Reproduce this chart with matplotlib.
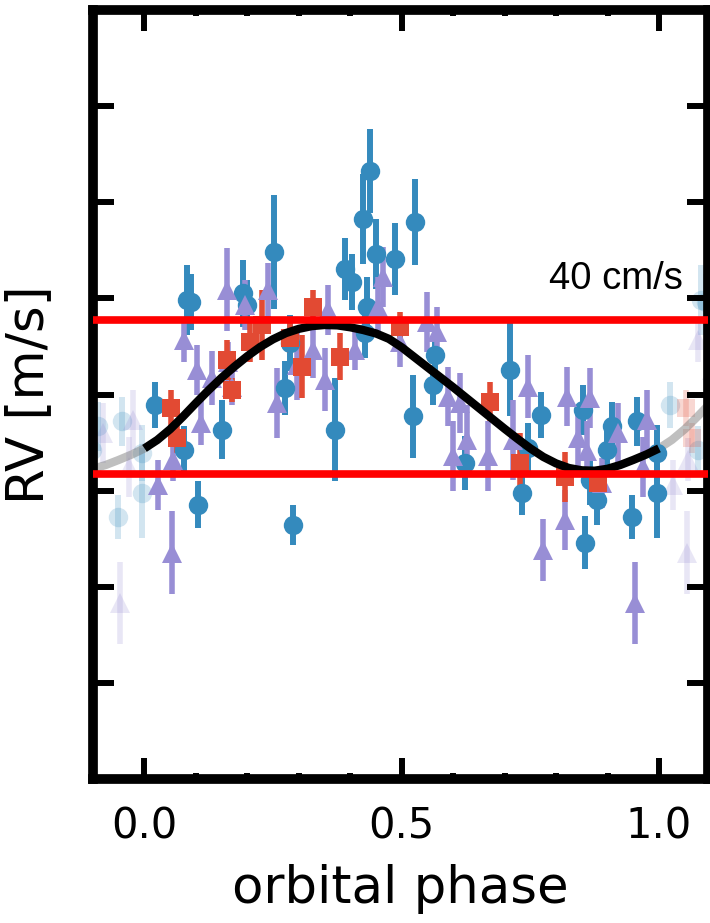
import numpy as np
import matplotlib
matplotlib.use("Agg")
import matplotlib.pyplot as plt
from matplotlib.ticker import MultipleLocator

# ---------------- data ----------------
# blue circles
blue_phase = [0.021, 0.076, 0.082, 0.091, 0.105, 0.151, 0.192, 0.200, 0.252, 0.274,
              0.283, 0.289, 0.371, 0.390, 0.404, 0.439, 0.425, 0.433, 0.429, 0.450,
              0.487, 0.526, 0.565, 0.561, 0.522, 0.623, 0.711, 0.746, 0.734, 0.771,
              0.852, 0.866, 0.880, 0.856, 0.899, 0.909, 0.948, 0.957, 0.996, 0.996]
blue_rv = [-0.026, -0.143, 0.247, 0.240, -0.286, -0.091, 0.263, 0.234, 0.370, 0.018,
           0.135, -0.339, -0.091, 0.326, 0.292, 0.581, 0.456, 0.229, 0.161, 0.365,
           0.352, 0.448, 0.104, 0.026, -0.057, -0.177, 0.065, -0.138, -0.255, -0.052,
           -0.039, -0.221, -0.273, -0.385, -0.143, -0.083, -0.318, -0.070, -0.151, -0.255]
blue_err = [0.060, 0.062, 0.091, 0.073, 0.062, 0.076, 0.086, 0.065, 0.148, 0.070,
            0.073, 0.052, 0.135, 0.081, 0.073, 0.109, 0.117, 0.078, 0.065, 0.091,
            0.094, 0.112, 0.068, 0.052, 0.109, 0.070, 0.120, 0.065, 0.057, 0.060,
            0.065, 0.065, 0.065, 0.070, 0.065, 0.065, 0.057, 0.065, 0.073, 0.117]

# purple triangles
purple_phase = [0.027, 0.054, 0.056, 0.076, 0.103, 0.109, 0.132, 0.161, 0.163, 0.171,
                0.196, 0.241, 0.258, 0.297, 0.328, 0.351, 0.357, 0.410, 0.454, 0.464,
                0.497, 0.550, 0.569, 0.590, 0.600, 0.614, 0.627, 0.668, 0.717, 0.746,
                0.775, 0.817, 0.821, 0.843, 0.860, 0.866, 0.889, 0.920, 0.953, 0.969,
                0.977]
purple_rv = [-0.234, -0.411, -0.169, 0.143, 0.065, -0.073, 0.044, 0.273, 0.086, 0.021,
             0.234, 0.273, -0.021, 0.078, 0.117, 0.039, 0.221, 0.117, 0.229, 0.307,
             0.138, 0.188, 0.164, -0.005, -0.161, -0.021, -0.117, -0.161, -0.117, 0.021,
             -0.404, -0.326, -0.005, -0.112, -0.148, -0.008, -0.229, -0.099, -0.542, -0.188,
             -0.065]
purple_err = [0.065, 0.109, 0.057, 0.057, 0.065, 0.057, 0.070, 0.107, 0.052, 0.047,
              0.065, 0.070, 0.091, 0.091, 0.073, 0.083, 0.065, 0.052, 0.078, 0.078,
              0.065, 0.078, 0.065, 0.078, 0.091, 0.078, 0.091, 0.091, 0.104, 0.083,
              0.081, 0.078, 0.078, 0.078, 0.078, 0.078, 0.065, 0.078, 0.107, 0.078,
              0.078]

# red squares
red_phase = [0.052, 0.064, 0.161, 0.171, 0.206, 0.229, 0.283, 0.307, 0.328, 0.381,
             0.497, 0.672, 0.730, 0.817, 0.882]
red_rv = [-0.034, -0.112, 0.091, 0.013, 0.138, 0.182, 0.148, 0.073, 0.229, 0.099,
          0.177, -0.018, -0.177, -0.214, -0.229]
red_err = [0.047, 0.039, 0.052, 0.031, 0.052, 0.091, 0.039, 0.083, 0.044, 0.060,
           0.039, 0.052, 0.078, 0.065, 0.039]

# model curve samples (phase, m/s)
model_phase = [0.000, 0.025, 0.050, 0.075, 0.100, 0.125, 0.150, 0.175, 0.200, 0.225,
               0.250, 0.275, 0.300, 0.325, 0.350, 0.375, 0.400, 0.425, 0.450, 0.475,
               0.500, 0.525, 0.550, 0.575, 0.600, 0.625, 0.650, 0.675, 0.700, 0.725,
               0.750, 0.775, 0.800, 0.825, 0.850, 0.875, 0.900, 0.925, 0.950, 0.975,
               1.000]
model_rv = [-0.140, -0.118, -0.090, -0.057, -0.022, 0.012, 0.044, 0.073, 0.100, 0.124,
            0.144, 0.160, 0.171, 0.178, 0.181, 0.180, 0.175, 0.168, 0.159, 0.145,
            0.123, 0.097, 0.071, 0.045, 0.019, -0.008, -0.035, -0.062, -0.089, -0.115,
            -0.140, -0.162, -0.179, -0.191, -0.197, -0.198, -0.193, -0.183, -0.170, -0.156,
            -0.140]

# amplitude reference lines (m/s)
ref_lines = [0.195, -0.207]
ref_label = "40 cm/s"

xticks = [0.0, 0.5, 1.0]
xticklabels = ["0.0", "0.5", "1.0"]

# ---------------- styling ----------------
BLUE = "#348ABD"
PURPLE = "#988ED5"
RED = "#E24A33"

fig = plt.figure(figsize=(7.10, 9.23), dpi=100)
ax = fig.add_axes([0.131, 0.156, 0.866, 0.833])

series = [
    (blue_phase, blue_rv, blue_err, BLUE, "o", 14, 4.3),
    (purple_phase, purple_rv, purple_err, PURPLE, "^", 14, 4.0),
    (red_phase, red_rv, red_err, RED, "s", 13, 4.0),
]

# faded copies outside [0, 1]
for ph, rv, er, col, mk, ms, ew in series:
    ph = np.asarray(ph)
    for shift in (-1.0, 1.0):
        ax.errorbar(ph + shift, rv, yerr=er, fmt=mk, color=col, ms=ms, mew=0,
                    elinewidth=ew, capsize=0, alpha=0.22, zorder=1)

mp = np.asarray(model_phase)
for shift in (-1.0, 1.0):
    ax.plot(mp + shift, model_rv, color="0.5", lw=6, alpha=0.5, zorder=2,
            solid_capstyle="butt", solid_joinstyle="round")

for ph, rv, er, col, mk, ms, ew in series:
    ax.errorbar(ph, rv, yerr=er, fmt=mk, color=col, ms=ms, mew=0,
                elinewidth=ew, capsize=0, zorder=3)

ax.plot(mp, model_rv, color="black", lw=6, zorder=4, solid_capstyle="butt",
        solid_joinstyle="round")

for yv in ref_lines:
    ax.axhline(yv, color="#FF0000", lw=5.5, zorder=6)

ax.text(1.047, 0.30, ref_label, ha="right", va="center", fontsize=27.5,
        family="Liberation Sans", zorder=7)

ax.set_xlim(-0.1, 1.095)
ax.set_ylim(-1.0, 1.0)
ax.set_xticks(xticks)
ax.set_xticklabels(xticklabels)
ax.xaxis.set_minor_locator(MultipleLocator(0.1))
ax.yaxis.set_major_locator(MultipleLocator(0.25))
ax.set_yticklabels([])

for sp in ax.spines.values():
    sp.set_linewidth(7)

ax.tick_params(axis="both", which="major", direction="in", length=15, width=4.3,
               top=True, right=True, labelsize=30, pad=19)
ax.tick_params(axis="x", which="minor", direction="in", length=4.5, width=4.3,
               top=True, bottom=True)
ax.tick_params(axis="y", which="minor", left=False, right=False)

ax.set_xlabel("orbital phase", fontsize=37, labelpad=12)
ax.set_ylabel("RV [m/s]", fontsize=37, labelpad=9)

fig.savefig("out.png", dpi=100)
